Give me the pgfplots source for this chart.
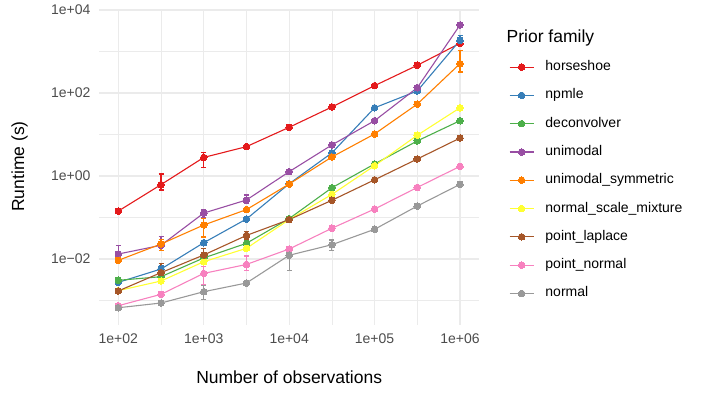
\documentclass[border=0pt]{standalone}
\usepackage{fontspec}
\setmainfont{Liberation Sans}
\usepackage{pgfplots}
\pgfplotsset{compat=1.18}

\definecolor{hs}{HTML}{E41A1C}
\definecolor{np}{HTML}{377EB8}
\definecolor{dc}{HTML}{4DAF4A}
\definecolor{um}{HTML}{984EA3}
\definecolor{us}{HTML}{FF7F00}
\definecolor{nsm}{HTML}{FFFF33}
\definecolor{pl}{HTML}{A65628}
\definecolor{pn}{HTML}{F781BF}
\definecolor{nm}{HTML}{999999}
\definecolor{grid92}{gray}{0.92}
\definecolor{grey30}{gray}{0.30}

\pgfplotsset{
  series/.style={color=#1, mark=*, line width=1.1bp,
    mark options={solid, line width=0pt}, mark size=3.3bp,
    error bars/.cd, y dir=both, y explicit,
    error bar style={line width=1.1bp},
    error mark options={line width=1.1bp, mark size=2.5bp, rotate=90}},
}

\begin{document}
\begin{tikzpicture}[x=1bp,y=1bp]
\useasboundingbox (0,0) rectangle (706,397);
\begin{axis}[
  at={(99bp,72bp)}, anchor=south west,
  scale only axis, width=380.3bp, height=315.3bp,
  xmode=log, ymode=log,
  xmin=59.4, xmax=1.683e6,
  ymin=2.57e-4, ymax=10160,
  axis line style={draw=none},
  major tick length=0pt, minor tick length=0pt,
  xtick={1e2,1e3,1e4,1e5,1e6},
  xticklabels={1e+02,1e+03,1e+04,1e+05,1e+06},
  minor xtick={316.23,3162.3,31623,316228},
  ytick={1e-2,1,1e2,1e4},
  yticklabels={1e−02,1e+00,1e+02,1e+04},
  minor ytick={1e-3,1e-1,10,1e3},
  grid=both,
  major grid style={color=grid92, line width=1.1bp},
  minor grid style={color=grid92, line width=0.55bp},
  tick label style={font=\fontsize{14bp}{16bp}\selectfont, text=grey30, inner sep=0pt},
  xticklabel style={anchor=north, yshift=-8.3bp},
  yticklabel style={anchor=east, xshift=-8.3bp},
  xlabel={Number of observations},
  ylabel={Runtime (s)},
  label style={font=\fontsize{17.5bp}{20bp}\selectfont, inner sep=0pt},
  xlabel style={at={(axis description cs:0.5,-0.185)}, anchor=base},
  ylabel style={at={(axis description cs:-0.197,0.5025)}, anchor=base},
  legend style={
    at={(axis description cs:1.0782,0.8387)}, anchor=north west,
    draw=none, fill=none, inner sep=0pt, outer sep=0pt,
    row sep=15.3bp, column sep=11.3bp,
    nodes={inner sep=0pt, text height=10bp, text depth=3bp},
    font=\fontsize{14bp}{16bp}\selectfont,
  },
  legend cell align=left,
  legend image code/.code={%
    \draw[mark repeat=2, mark phase=2] plot coordinates {(0bp,0bp) (12bp,0bp) (24bp,0bp)};},
  clip=false,
]

\addplot[series=hs] coordinates {
  (100,0.143) (316.23,0.62) += (0,0.50) -= (0,0.16)
  (1000,2.8) += (0,0.84) -= (0,1.22)
  (3162.3,5.1) (10000,14.9) (31623,46) (100000,150) (316228,465) (1000000,1575)};
\addlegendentry{horseshoe}

\addplot[series=np] coordinates {
  (100,0.00274) (316.23,0.00574) += (0,0.0014) -= (0,0.0012)
  (1000,0.0247) (3162.3,0.092) (10000,0.65) (31623,3.6) (100000,44)
  (316228,112) (1000000,1860) += (0,600) -= (0,500)};
\addlegendentry{npmle}

\addplot[series=dc] coordinates {
  (100,0.00307) (316.23,0.00375) (1000,0.0106) (3162.3,0.0239) (10000,0.094)
  (31623,0.52) (100000,1.95) (316228,7.0) (1000000,21.5)};
\addlegendentry{deconvolver}

\addplot[series=um] coordinates {
  (100,0.0132) += (0,0.0077) -= (0,0.0026)
  (316.23,0.0214) += (0,0.013) -= (0,0.005)
  (1000,0.128) += (0,0.03) -= (0,0.028)
  (3162.3,0.264) += (0,0.084) -= (0,0.044)
  (10000,1.27) (31623,5.6) (100000,21.5) (316228,134) (1000000,4350)};
\addlegendentry{unimodal}

\addplot[series=us] coordinates {
  (100,0.0093) (316.23,0.023) += (0,0.007) -= (0,0.007)
  (1000,0.066) += (0,0.029) -= (0,0.032)
  (3162.3,0.155) (10000,0.64) (31623,2.87) (100000,10.3) (316228,54)
  (1000000,509) += (0,536) -= (0,188)};
\addlegendentry{unimodal\_symmetric}

\addplot[series=nsm] coordinates {
  (100,0.00173) (316.23,0.00295) (1000,0.0086) (3162.3,0.0181) (10000,0.089)
  (31623,0.36) (100000,1.77) (316228,9.6) (1000000,44)};
\addlegendentry{normal\_scale\_mixture}

\addplot[series=pl] coordinates {
  (100,0.0017) (316.23,0.0047) += (0,0.0032) -= (0,0.0019)
  (1000,0.0125) += (0,0.0056) -= (0,0.0046)
  (3162.3,0.037) += (0,0.010) -= (0,0.007)
  (10000,0.089) (31623,0.26) (100000,0.81) (316228,2.57) (1000000,8.2)};
\addlegendentry{point\_laplace}

\addplot[series=pn] coordinates {
  (100,0.00075) (316.23,0.00141)
  (1000,0.0045) += (0,0.002) -= (0,0.0021)
  (3162.3,0.0074) += (0,0.0044) -= (0,0.002)
  (10000,0.0174) (31623,0.055) (100000,0.16) (316228,0.53) (1000000,1.71)};
\addlegendentry{point\_normal}

\addplot[series=nm] coordinates {
  (100,0.00067) (316.23,0.00087)
  (1000,0.00163) += (0,0.0007) -= (0,0.00056)
  (3162.3,0.00264)
  (10000,0.0123) += (0,0.0075) -= (0,0.0069)
  (31623,0.0221) += (0,0.0066) -= (0,0.0063)
  (100000,0.052) (316228,0.189) (1000000,0.63)};
\addlegendentry{normal}

\end{axis}
\node[anchor=base west, inner sep=0pt, font=\fontsize{17.5bp}{20bp}\selectfont]
  at (506.5,354.3) {Prior family};
\end{tikzpicture}
\end{document}
